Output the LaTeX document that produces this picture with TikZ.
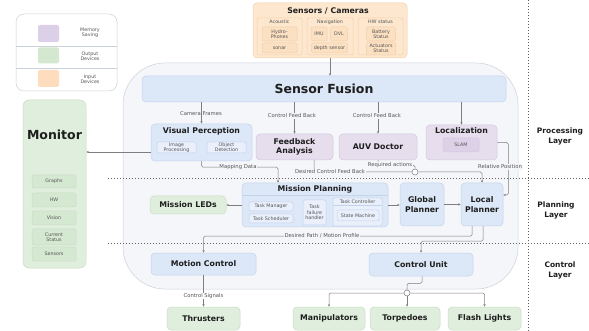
\documentclass[tikz,border=0pt]{standalone}
\usepackage{fontspec}
\setmainfont{DejaVu Sans}
\usetikzlibrary{arrows.meta,calc}

\definecolor{panel}{HTML}{F4F6FA}
\definecolor{panelline}{HTML}{CBD1DA}
\definecolor{bluefill}{HTML}{DCE7F7}
\definecolor{blueline}{HTML}{C4D3EA}
\definecolor{bluesub}{HTML}{E9F0FB}
\definecolor{purplefill}{HTML}{E6DDED}
\definecolor{purpleline}{HTML}{D4C7E0}
\definecolor{purplesub}{HTML}{DDD1E8}
\definecolor{greenfill}{HTML}{E0EFDD}
\definecolor{greenline}{HTML}{C8DCC4}
\definecolor{greensub}{HTML}{D5E8D1}
\definecolor{orangefill}{HTML}{FDE7CE}
\definecolor{orangeline}{HTML}{F2D0AA}
\definecolor{orangesub}{HTML}{FCE0C2}
\definecolor{wire}{HTML}{7E7E7E}
\definecolor{ink}{HTML}{1E1E1E}
\definecolor{softink}{HTML}{555555}
\definecolor{dots}{HTML}{606060}
\definecolor{swpurple}{HTML}{DCCFE8}
\definecolor{swgreen}{HTML}{D3E8CF}
\definecolor{sworange}{HTML}{FDDDBE}

\newcommand\fntbig{\fontsize{12.5}{14}\selectfont\bfseries}
\newcommand\fntmid{\fontsize{7.8}{9}\selectfont\bfseries}
\newcommand\fntlayer{\fontsize{7.5}{10}\selectfont\bfseries}
\newcommand\fntlbl{\fontsize{5.3}{6.2}\selectfont}
\newcommand\fntsub{\fontsize{4.8}{5.4}\selectfont}

\tikzset{
  sz/.style 2 args={minimum width=#1, minimum height=#2},
  boxbase/.style={rounded corners=4pt, inner sep=0pt, align=center, text=ink, line width=0.5pt},
  bluebox/.style={boxbase, draw=blueline, fill=bluefill},
  bluesubbox/.style={boxbase, rounded corners=2pt, draw=blueline, fill=bluesub, font=\fntsub, text=softink},
  purplebox/.style={boxbase, draw=purpleline, fill=purplefill},
  purplesubbox/.style={boxbase, rounded corners=2pt, draw=purpleline, fill=purplesub, font=\fntsub, text=softink},
  greenbox/.style={boxbase, draw=greenline, fill=greenfill},
  greensubbox/.style={boxbase, rounded corners=2pt, draw=greenline, fill=greensub, font=\fntsub, text=softink},
  orangebox/.style={boxbase, draw=orangeline, fill=orangefill},
  orangesubbox/.style={boxbase, rounded corners=2pt, draw=orangeline, fill=orangesub, font=\fntsub, text=softink},
  titletext/.style={inner sep=0pt, font=\fntmid, text=ink},
  lbl/.style={inner sep=0.8pt, font=\fntlbl, text=softink, fill=panel},
  wirepath/.style={draw=wire, line width=0.5pt, rounded corners=1.5pt},
  arr/.style={wirepath, -{Stealth[length=2.6pt,width=2.2pt]}},
  junction/.style={circle, draw=wire, fill=white, line width=0.5pt, minimum size=6pt, inner sep=0pt},
  dotline/.style={draw=dots, line width=0.9pt, dash pattern=on 0.9pt off 2.1pt},
  layertext/.style={align=center, font=\fntlayer, text=ink},
}

\begin{document}
\begin{tikzpicture}[x=1pt,y=-1pt]
\useasboundingbox[fill=white] (0,0) rectangle (589,331);

% ---------- legend ----------
\node[boxbase, rounded corners=8pt, draw=panelline, fill=white, sz={101pt}{77pt}] (legend) at (66.5,52.5) {};
\draw[draw=panelline, line width=0.5pt] (16,46) -- (117,46);
\draw[draw=panelline, line width=0.5pt] (16,68.5) -- (117,68.5);
\node[boxbase, rounded corners=2pt, fill=swpurple, sz={21pt}{17pt}] (swmem) at (48.5,33.5) {};
\node[boxbase, rounded corners=2pt, fill=swgreen, sz={21pt}{16pt}] (swout) at (48.5,55.5) {};
\node[boxbase, rounded corners=2pt, fill=sworange, sz={21pt}{17pt}] (swin) at (48.5,78.5) {};
\node[align=center, font=\fntsub, text=softink] (txmem) at (90,33) {Memory\\Saving};
\node[align=center, font=\fntsub, text=softink] (txout) at (90,56.5) {Output\\Devices};
\node[align=center, font=\fntsub, text=softink] (txin) at (90,79) {Input\\Devices};

% ---------- sensors / cameras ----------
\node[orangebox, sz={154pt}{55pt}] (sensors) at (330,30.5) {};
\node[titletext] (sensorstitle) at (328,10.5) {Sensors / Cameras};
\node[orangebox, rounded corners=2pt, sz={45pt}{37pt}] (acoustic) at (279.5,36.5) {};
\node[font=\fntsub, text=softink, inner sep=0pt] (acoustictitle) at (279.5,22) {Acoustic};
\node[orangesubbox, sz={35pt}{14pt}] (hydro) at (279.5,34) {Hydro-\\Phones};
\node[orangesubbox, sz={35pt}{10pt}] (sonar) at (279.5,48) {sonar};
\node[orangebox, rounded corners=2pt, sz={46pt}{37pt}] (navigation) at (330,36.5) {};
\node[font=\fntsub, text=softink, inner sep=0pt] (navtitle) at (330,22) {Navigation};
\node[orangesubbox, sz={16pt}{14pt}] (imu) at (319,34) {IMU};
\node[orangesubbox, sz={17pt}{14pt}] (dvl) at (339,34) {DVL};
\node[orangesubbox, sz={36pt}{10pt}] (depth) at (329.5,48) {depth sensor};
\node[orangebox, rounded corners=2pt, sz={45pt}{37pt}] (hwstatus) at (380.5,36.5) {};
\node[font=\fntsub, text=softink, inner sep=0pt] (hwtitle) at (380.5,22) {HW status};
\node[orangesubbox, sz={29pt}{14pt}] (battery) at (381,34) {Battery\\Status};
\node[orangesubbox, sz={29pt}{13pt}] (actuators) at (381,48.5) {Actuators\\Status};

% ---------- system panel ----------
\node[boxbase, rounded corners=42pt, draw=panelline, fill=panel, sz={395pt}{226pt}] (system) at (320.5,176) {};

% layer separators
\draw[dotline] (108,178) -- (589,178);
\draw[dotline] (108,243) -- (589,243);
\draw[dotline] (528,0) -- (528,331);

\node[layertext] (layproc) at (560,136) {Processing\\Layer};
\node[layertext] (layplan) at (556,210) {Planning\\Layer};
\node[layertext] (layctrl) at (560,270) {Control\\Layer};

% ---------- processing layer ----------
\node[bluebox, sz={364pt}{26pt}, font=\fntbig] (sf) at (324,89) {Sensor Fusion};

\node[bluebox, sz={101pt}{37pt}] (vp) at (201.5,142.5) {};
\node[titletext] (vptitle) at (201.5,131) {Visual Perception};
\node[bluesubbox, sz={39pt}{11pt}] (imgproc) at (176.5,147.5) {Image\\Processing};
\node[bluesubbox, sz={39pt}{11pt}] (objdet) at (226.5,147.5) {Object\\Detection};

\node[purplebox, sz={77pt}{26pt}, font=\fntmid] (fa) at (294.5,147) {Feedback\\Analysis};
\node[purplebox, sz={78pt}{26pt}, font=\fntmid] (auv) at (378,147) {AUV Doctor};

\node[purplebox, sz={71pt}{35pt}] (loc) at (461.5,142.5) {};
\node[titletext] (loctitle) at (461.5,131) {Localization};
\node[purplesubbox, sz={36pt}{14pt}] (slam) at (461,145) {SLAM};

% ---------- monitor ----------
\node[greenbox, rounded corners=6pt, sz={63pt}{168pt}] (monitor) at (54.5,184) {};
\node[inner sep=0pt, font=\fntbig, text=ink] (monitortitle) at (54.5,135) {Monitor};
\node[greensubbox, sz={44pt}{13pt}] (graphs) at (54,181.5) {Graphs};
\node[greensubbox, sz={44pt}{14pt}] (hwmon) at (54,200) {HW};
\node[greensubbox, sz={44pt}{14pt}] (vision) at (54,218) {Vision};
\node[greensubbox, sz={44pt}{16pt}] (curstat) at (54,237) {Current\\Status};
\node[greensubbox, sz={44pt}{14pt}] (sensmon) at (54,254) {Sensors};

% ---------- planning layer ----------
\node[greenbox, sz={76pt}{18pt}, font=\fntmid] (leds) at (188,205) {Mission LEDs};

\node[bluebox, sz={146pt}{44pt}] (mp) at (315,205) {};
\node[titletext] (mptitle) at (315,189) {Mission Planning};
\draw[draw=blueline, line width=0.5pt] (mp.west |- 0,195) -- (mp.east |- 0,195);
\node[bluesubbox, sz={44pt}{9pt}] (taskman) at (271,206.5) {Task Manager};
\node[bluesubbox, sz={44pt}{9pt}] (tasksched) at (271,218.5) {Task Scheduler};
\node[bluesubbox, sz={23pt}{25pt}] (taskfail) at (314.5,212.5) {Task\\failure\\handler};
\node[bluesubbox, sz={49pt}{28pt}] (taskctrl) at (357.5,212) {};
\node[inner sep=0pt, font=\fntsub, text=softink] (taskctrltitle) at (357.5,201.5) {Task Controller};
\draw[draw=blueline, line width=0.5pt] (taskctrl.west |- 0,205) -- (taskctrl.east |- 0,205);
\node[bluesubbox, sz={42pt}{11pt}] (statemach) at (358,215.5) {State Machine};

\node[bluebox, sz={44pt}{43pt}, font=\fontsize{7.8}{10}\selectfont\bfseries] (gp) at (422,204.5) {Global\\Planner};
\node[bluebox, sz={42pt}{43pt}, font=\fontsize{7.8}{10}\selectfont\bfseries] (lp) at (482,204.5) {Local\\Planner};

% ---------- control layer ----------
\node[bluebox, sz={105pt}{22pt}, font=\fntmid] (mc) at (203.5,264) {Motion Control};
\node[bluebox, sz={104pt}{23pt}, font=\fntmid] (cu) at (421,264.5) {Control Unit};

\node[greenbox, sz={73pt}{23pt}, font=\fntmid] (thr) at (203.5,318.5) {Thrusters};
\node[greenbox, sz={72pt}{23pt}, font=\fntmid] (man) at (329,318.5) {Manipulators};
\node[greenbox, sz={70pt}{23pt}, font=\fntmid] (torp) at (405,318.5) {Torpedoes};
\node[greenbox, sz={73pt}{23pt}, font=\fntmid] (flash) at (484.5,318.5) {Flash Lights};

\node[junction] (j1) at (415,172) {};
\node[junction] (j2) at (407,293) {};

% ---------- connectors ----------
\draw[arr] (sensors.south) -- (sensors.south |- sf.north);
\draw[arr] (vp.north |- sf.south) -- (vp.north);
\draw[arr] (fa.north |- sf.south) -- (fa.north);
\draw[arr] (auv.north |- sf.south) -- (auv.north);
\draw[arr] (loc.north |- sf.south) -- (loc.north);
\draw[arr] ([yshift=-9.5pt]vp.west) -- ([yshift=-9.5pt]vp.west -| monitor.east);
\draw[arr] (vp.south) -- ++(0,6) -| ([xshift=-37pt]mp.north);
\draw[wirepath] ([xshift=19.5pt]fa.south) |- (j1.west);
\draw[wirepath] (auv.south) -- ++(0,5) -| (j1.north);
\draw[arr] (j1.east) -| (lp.north);
\draw[arr] (loc.east) -- ++(11,0) |- ([yshift=9.5pt]lp.east);
\draw[arr] (mp.west) -- (leds.east);
\draw[arr] (mp.east) -- (mp.east -| gp.west);
\draw[arr] (gp.east) -- (lp.west);
\draw[arr] ([xshift=-10pt]lp.south) -- ++(0,10) -| (mc.north);
\draw[arr] ([xshift=1pt]lp.south) -- ++(0,15) -| (cu.north);
\draw[arr] (mc.south) -- (thr.north);
\draw[wirepath] ([xshift=1pt]cu.south) -- ++(0,7) -| (j2.north);
\draw[arr] (j2.west) -| (man.north);
\draw[arr] (j2.south) -- (j2.south |- torp.north);
\draw[arr] (j2.east) -| (flash.north);

% ---------- connector labels ----------
\node[lbl, fill=none] (lblcam) at (201,114) {Camera Frames};
\node[lbl] (lblfa) at (292,116) {Control Feed Back};
\node[lbl] (lblauv) at (377,116) {Control Feed Back};
\node[lbl] (lblmap) at (238,167) {Mapping Data};
\node[lbl] (lbldcf) at (330,172) {Desired Control Feed Back};
\node[lbl] (lblreq) at (390,165) {Required actions};
\node[lbl] (lblrel) at (500,167) {Relative Position};
\node[lbl] (lblpath) at (322,236) {Desired Path / Motion Profile};
\node[lbl, fill=white] (lblsig) at (203.5,296) {Control Signals};
\end{tikzpicture}
\end{document}
